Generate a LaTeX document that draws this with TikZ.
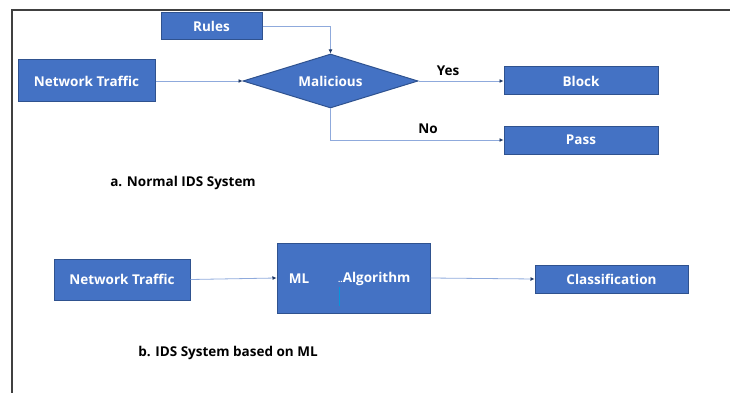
\documentclass[tikz,border=0pt]{standalone}
\usepackage{fontspec}
\setmainfont{Open Sans}
\usetikzlibrary{shapes.geometric,arrows.meta}
\definecolor{boxfill}{HTML}{4472C4}
\definecolor{boxline}{HTML}{2F528F}
\definecolor{linkline}{HTML}{8FAADC}
\definecolor{tipcol}{HTML}{1F3864}
\tikzset{
	blk/.style={draw=boxline,fill=boxfill,line width=1pt,text=white,inner sep=0pt,font=\bfseries\fontsize{13.5}{15}\selectfont},
	link/.style={draw=linkline,line width=0.8pt,-{Latex[length=4pt,width=4pt,color=tipcol]}},
	lbl/.style={font=\bfseries\fontsize{13.5}{15}\selectfont}
}
\begin{document}
\begin{tikzpicture}[x=1pt,y=-1pt]
		\useasboundingbox (0,0)rectangle(730,393);
		\draw[line width=1.5pt,black!75] (12,393)--(12,10)--(730,10);
		% a. normal IDS
		\node[blk,minimum width=101pt,minimum height=27pt] (rules) at(211.5,26.5){Rules};
		\node[blk,minimum width=137pt,minimum height=42pt] (nt1) at(86.5,81){Network Traffic};
		\node[blk,diamond,aspect=3.2,minimum width=175pt,minimum height=54pt] (mal) at(330.5,81){Malicious};
		\node[blk,minimum width=154pt,minimum height=28pt] (block) at(581,81){Block};
		\node[blk,minimum width=154pt,minimum height=28pt] (pass) at(581,140){Pass};
		\node[lbl] (yes) at(448,71){Yes};
		\node[lbl] (no) at(428,129){No};
		\draw[link] (rules.east) -| (mal.north);
		\draw[link] (nt1.east) -- (mal.west);
		\draw[link] (mal.east) -- (block.west);
		\draw[link] (mal.south) |- (pass.west);
		\node[lbl] (capa) at(183,183){a. Normal IDS System};
		% b. IDS based on ML
		\node[blk,minimum width=136pt,minimum height=41pt] (nt2) at(122,279.5){Network Traffic};
		\node[blk,minimum width=153pt,minimum height=70pt] (ml) at(353.5,278){};
		\node[text=white,font=\bfseries\fontsize{13.5}{15}\selectfont] (mltxt) at(299,279){ML};
		\node[text=white,font=\bfseries\fontsize{13.5}{15}\selectfont,anchor=west,inner sep=0pt] (algtxt) at(338,279){{\fontsize{8}{9}\selectfont..}Algorithm};
		\draw[cyan!80!blue,line width=1pt] (339,287)--(339,306);
		\node[blk,minimum width=153pt,minimum height=28pt] (cls) at(611.5,279){Classification};
		\draw[link] (nt2.east) -- (ml.west);
		\draw[link] (ml.east) -- (cls.west);
		\node[lbl] (capb) at(228,353){b. IDS System based on ML};
	\end{tikzpicture}
\end{document}
